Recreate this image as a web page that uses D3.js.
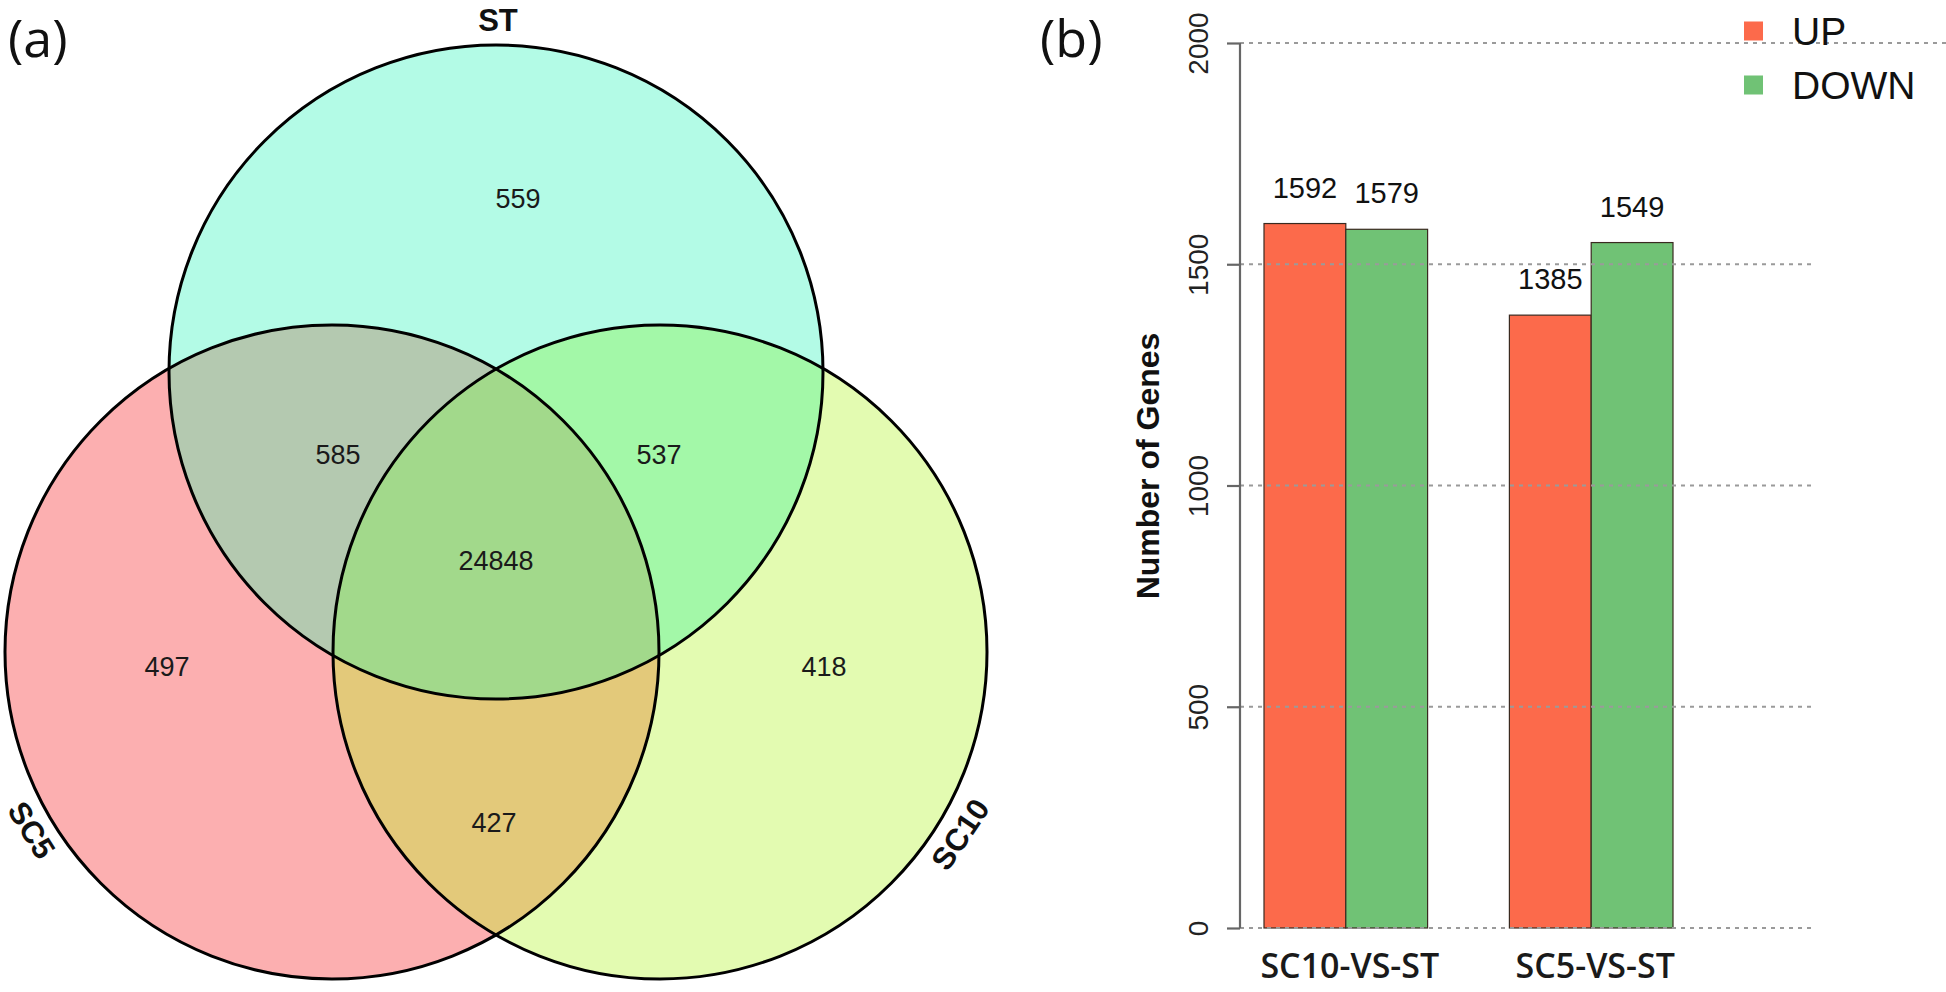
<!DOCTYPE html>
<html>
<head>
<meta charset="utf-8">
<script src="https://cdn.jsdelivr.net/npm/d3@7"></script>
<style>
  html, body { margin: 0; padding: 0; background: #fff; }
  svg { display: block; }
</style>
</head>
<body>
<svg id="chart" width="1946" height="992"></svg>
<script>
// ---------------- DATA ----------------
// Panel (a): Venn diagram
const vennSets = ["ST", "SC5", "SC10"];
const vennRegions = ["ST", "SC5", "SC10", "ST&SC5", "ST&SC10", "SC5&SC10", "ST&SC5&SC10"];
const vennCounts = [559, 497, 418, 585, 537, 427, 24848];

// Panel (b): grouped bars
const comparisons = ["SC10-VS-ST", "SC5-VS-ST"];
const seriesNames = ["UP", "DOWN"];
const upCounts = [1592, 1385];
const downCounts = [1579, 1549];
const yTicks = [0, 500, 1000, 1500, 2000];

// ---------------- LAYOUT / STYLE ----------------
const svg = d3.select("#chart");
const font = "'Liberation Sans', Arial, sans-serif";

// Venn geometry
const R = 327;
const circleLayout = {
  ST:   {cx: 496, cy: 372},
  SC5:  {cx: 332, cy: 652},
  SC10: {cx: 660, cy: 652}
};
const regionColor = {
  "ST": "#b3fbe6",
  "SC5": "#fcafb0",
  "SC10": "#e3fbb1",
  "ST&SC5": "#b4c9b0",
  "ST&SC10": "#a3f8a8",
  "SC5&SC10": "#e3c97a",
  "ST&SC5&SC10": "#a2d98b"
};
const labelLayout = {
  "ST": [518, 198],
  "SC5": [167, 666],
  "SC10": [824, 666],
  "ST&SC5": [338, 454],
  "ST&SC10": [659, 454],
  "SC5&SC10": [494, 822],
  "ST&SC5&SC10": [496, 560]
};
const setLabelLayout = {
  ST:   {x: 498, y: 31, rot: 0},
  SC5:  {x: 32, y: 830, rot: 58},
  SC10: {x: 960, y: 834, rot: -56}
};

// panel letters
svg.append("text").attr("x", 8).attr("y", 57)
  .attr("font-family", "'Open Sans', sans-serif").attr("font-size", 52)
  .attr("fill", "#111").text("(a)");
svg.append("text").attr("x", 1040).attr("y", 57)
  .attr("font-family", "'Open Sans', sans-serif").attr("font-size", 52)
  .attr("fill", "#111").text("(b)");

// ---- Venn ----
const defs = svg.append("defs");
vennSets.forEach(s => {
  defs.append("clipPath").attr("id", "clip-" + s)
    .append("circle")
    .attr("cx", circleLayout[s].cx).attr("cy", circleLayout[s].cy).attr("r", R);
});

const venn = svg.append("g").attr("class", "venn");
function circ(g, s) {
  return g.append("circle")
    .attr("cx", circleLayout[s].cx).attr("cy", circleLayout[s].cy).attr("r", R);
}
// single sets
vennSets.forEach(s => circ(venn, s).attr("fill", regionColor[s]));
// pairwise intersections
const pairs = [["ST", "SC5"], ["ST", "SC10"], ["SC5", "SC10"]];
pairs.forEach(([a, b]) => {
  circ(venn, b).attr("fill", regionColor[a + "&" + b])
    .attr("clip-path", "url(#clip-" + a + ")");
});
// triple
const tg = venn.append("g").attr("clip-path", "url(#clip-ST)");
circ(tg, "SC5").attr("fill", regionColor["ST&SC5&SC10"]).attr("clip-path", "url(#clip-SC10)");
// outlines
vennSets.forEach(s => circ(venn, s).attr("fill", "none").attr("stroke", "#000").attr("stroke-width", 3));

// counts
vennRegions.forEach((r, i) => {
  venn.append("text")
    .attr("x", labelLayout[r][0]).attr("y", labelLayout[r][1])
    .attr("dy", "0.36em")
    .attr("text-anchor", "middle")
    .attr("font-family", font).attr("font-size", 27)
    .attr("fill", "#1a1a1a")
    .text(vennCounts[i]);
});
// set names
vennSets.forEach(s => {
  const L = setLabelLayout[s];
  venn.append("text")
    .attr("transform", `translate(${L.x},${L.y}) rotate(${L.rot})`)
    .attr("dy", L.rot === 0 ? 0 : "0.36em")
    .attr("text-anchor", "middle")
    .attr("font-family", font).attr("font-weight", "bold").attr("font-size", 31)
    .attr("fill", "#111")
    .text(s);
});

// ---- Bar chart ----
const axisX = 1240;
const y = d3.scaleLinear().domain([0, 2000]).range([928, 43]);
const x0 = d3.scaleBand().domain(comparisons).range([1264, 1673]).paddingInner(1 / 3).paddingOuter(0);
const x1 = d3.scaleBand().domain(seriesNames).range([0, x0.bandwidth()]);
const barColor = {UP: "#fc6a4b", DOWN: "#70c275"};

const barData = comparisons.map((c, i) => ({
  cat: c,
  values: [{key: "UP", v: upCounts[i]}, {key: "DOWN", v: downCounts[i]}]
}));

const bars = svg.append("g");
const grp = bars.selectAll("g.grp").data(barData).join("g")
  .attr("transform", d => `translate(${x0(d.cat)},0)`);
grp.selectAll("rect").data(d => d.values).join("rect")
  .attr("x", d => x1(d.key)).attr("width", x1.bandwidth())
  .attr("y", d => y(d.v)).attr("height", d => y(0) - y(d.v))
  .attr("fill", d => barColor[d.key])
  .attr("stroke", "#3a2a20").attr("stroke-width", 1.2);
grp.selectAll("text.val").data(d => d.values).join("text")
  .attr("class", "val")
  .attr("x", d => x1(d.key) + x1.bandwidth() / 2)
  .attr("y", d => y(d.v) - 26)
  .attr("text-anchor", "middle")
  .attr("font-family", font).attr("font-size", 29).attr("fill", "#111")
  .text(d => d.v);

// gridlines (dotted, drawn over bars)
const grid = svg.append("g");
grid.selectAll("line").data(yTicks).join("line")
  .attr("x1", axisX).attr("x2", d => d === 2000 ? 1946 : 1812)
  .attr("y1", d => y(d)).attr("y2", d => y(d))
  .attr("stroke", "#9a9a9a").attr("stroke-width", 2.2)
  .attr("stroke-dasharray", "4,5");

// y axis
const yAxis = svg.append("g").attr("transform", `translate(${axisX},0)`)
  .call(d3.axisLeft(y).tickValues(yTicks).tickFormat(d3.format("d"))
    .tickSize(13).tickSizeOuter(0).tickPadding(0));
yAxis.select(".domain").attr("stroke", "#666").attr("stroke-width", 2.2)
  .attr("d", `M0,${y(0)}V${y(2000)}`);
yAxis.selectAll(".tick line").attr("stroke", "#666").attr("stroke-width", 2.2);
yAxis.selectAll(".tick text")
  .attr("transform", "rotate(-90)")
  .attr("x", 0).attr("y", -32).attr("dy", 0)
  .attr("text-anchor", "middle")
  .attr("font-family", font).attr("font-size", 28).attr("fill", "#222");

// y axis title
svg.append("text")
  .attr("transform", "translate(1159,466) rotate(-90)")
  .attr("text-anchor", "middle")
  .attr("font-family", font).attr("font-weight", "bold").attr("font-size", 32)
  .attr("fill", "#111")
  .text("Number of Genes");

// category labels
svg.append("g").selectAll("text").data(comparisons).join("text")
  .attr("x", d => x0(d) + x0.bandwidth() / 2 + 4)
  .attr("y", 978)
  .attr("text-anchor", "middle")
  .attr("font-family", "'Open Sans', sans-serif").attr("font-weight", 600).attr("font-size", 34)
  .attr("fill", "#1a1a1a")
  .text(d => d);

// legend
const leg = svg.append("g");
seriesNames.forEach((s, i) => {
  const cy = 31 + i * 54;
  leg.append("rect").attr("x", 1744).attr("y", cy - 9.5).attr("width", 19).attr("height", 19)
    .attr("fill", barColor[s]);
  leg.append("text").attr("x", 1792).attr("y", cy).attr("dy", "0.36em")
    .attr("font-family", font).attr("font-size", 39).attr("fill", "#111")
    .text(s);
});
</script>
</body>
</html>
